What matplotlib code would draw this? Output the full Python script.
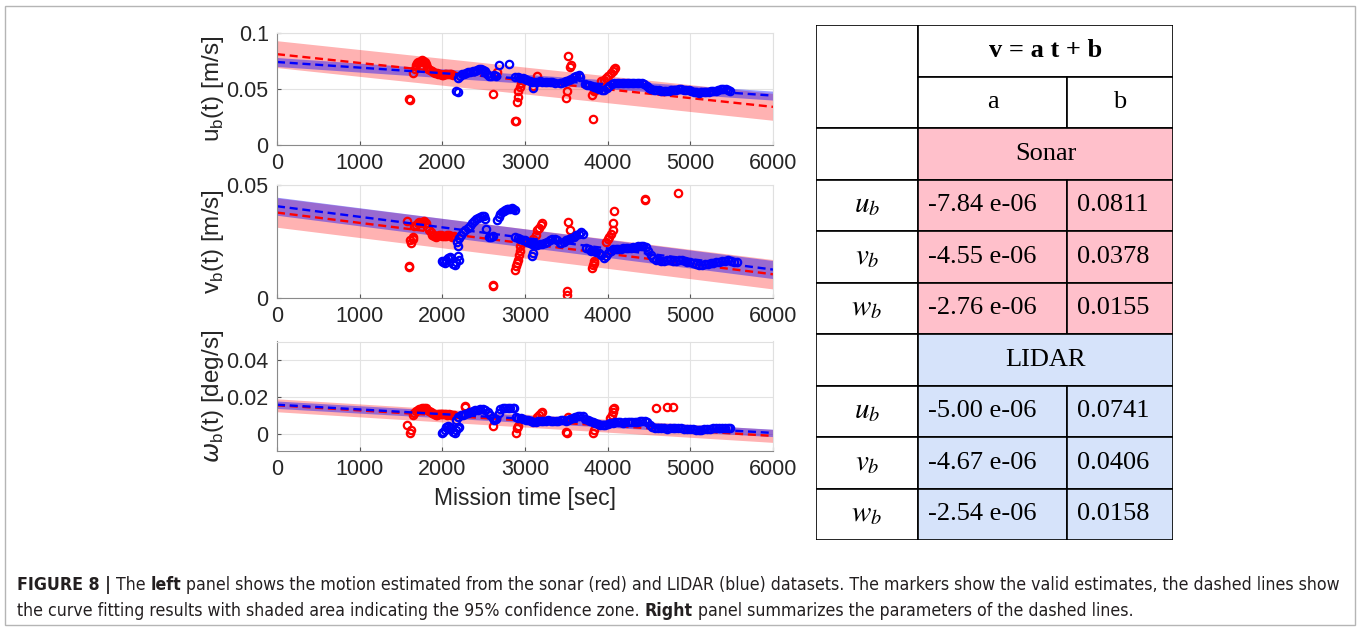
import matplotlib
matplotlib.use("Agg")
import matplotlib.pyplot as plt
from matplotlib import font_manager
from matplotlib.font_manager import FontProperties
from matplotlib.patches import Rectangle
import numpy as np

# =========================
# fit parameters (table)
# =========================
comp_labels = [r"$u_b$", r"$v_b$", r"$w_b$"]
sonar_a = [-7.84e-06, -4.55e-06, -2.76e-06]
sonar_b = [0.0811, 0.0378, 0.0155]
lidar_a = [-5.00e-06, -4.67e-06, -2.54e-06]
lidar_b = [0.0741, 0.0406, 0.0158]
# half width of the 95% zone
sonar_ci = [0.012, 0.0065, 0.0035]
lidar_ci = [0.004, 0.004, 0.002]

# =========================
# u_b
# =========================
sonar_u_t = [1595, 1605, 2610, 2658, 2885, 2895, 2900, 2910, 2920, 2935, 2950,
             3100, 3142, 3500, 3505, 3525, 3545, 3560, 3815, 3820, 3830, 3850, 3870,
             1650, 1665, 1680, 1695, 1710, 1725, 1740, 1755, 1770, 1785, 1800, 1815,
             1830, 1850, 1870, 1890, 1910, 1930, 1950, 1970, 1990, 2010, 2030, 2050,
             2070, 2090, 2110, 2130,
             3920, 3950, 3980, 4010, 4040, 4060, 4075, 4085]
sonar_u = [0.041, 0.0405, 0.0455, 0.0655, 0.0214, 0.021, 0.038, 0.043, 0.048, 0.052, 0.055,
           0.053, 0.062, 0.0417, 0.0482, 0.0797, 0.0699, 0.071, 0.045, 0.0229, 0.048, 0.049, 0.05,
           0.064, 0.068, 0.071, 0.073, 0.074, 0.0745, 0.075, 0.0755, 0.075, 0.074, 0.072, 0.070,
           0.068, 0.067, 0.066, 0.065, 0.0645, 0.064, 0.063, 0.063, 0.0625, 0.0625, 0.063, 0.063,
           0.0635, 0.063, 0.063, 0.0625,
           0.057, 0.058, 0.060, 0.062, 0.064, 0.066, 0.068, 0.0685]

lidar_u_t = [2170, 2185, 2690, 2811,
             2190, 2215, 2240, 2265, 2290, 2315, 2340, 2365, 2390, 2415, 2440, 2465, 2490,
             2515, 2540, 2565, 2590, 2620, 2645,
             2880, 2910, 2940, 2970, 3000, 3030, 3060, 3090, 3120, 3150, 3180, 3210, 3240,
             3270, 3300, 3330, 3360, 3100, 3420,
             3440, 3470, 3500, 3530, 3560, 3590, 3620, 3650, 3670,
             3720, 3750, 3780, 3810, 3840, 3870, 3900, 3930, 3960, 3990, 4020, 4050, 4080,
             4110, 4140, 4170, 4200, 4230, 4260, 4290, 4320, 4350, 4380, 4410, 4440, 4470, 4500,
             4530, 4560, 4590, 4620, 4650, 4680, 4710, 4740, 4770, 4800, 4830, 4860, 4890,
             4920, 4950, 4980, 5010, 5040, 5070, 5100, 5130, 5160, 5190, 5220, 5250, 5280,
             5310, 5340, 5370, 5400, 5430, 5460, 5480]
lidar_u = [0.048, 0.0475, 0.0714, 0.072,
           0.060, 0.0615, 0.063, 0.0635, 0.064, 0.065, 0.0655, 0.066, 0.0665, 0.067, 0.0675, 0.068, 0.067,
           0.066, 0.063, 0.0615, 0.062, 0.0625, 0.062,
           0.061, 0.0605, 0.060, 0.0595, 0.059, 0.058, 0.057, 0.0565, 0.056, 0.0565, 0.057, 0.0565, 0.056,
           0.0565, 0.0565, 0.056, 0.0555, 0.0506, 0.055,
           0.055, 0.056, 0.057, 0.058, 0.059, 0.0605, 0.062, 0.0625, 0.061,
           0.0545, 0.054, 0.0535, 0.053, 0.052, 0.051, 0.050, 0.049, 0.0495, 0.051, 0.053, 0.0545, 0.055,
           0.055, 0.0555, 0.0555, 0.0555, 0.0555, 0.055, 0.055, 0.055, 0.0555, 0.0555, 0.055, 0.0545, 0.053, 0.051,
           0.050, 0.0495, 0.049, 0.049, 0.0485, 0.048, 0.048, 0.0485, 0.049, 0.049, 0.0495, 0.050, 0.050,
           0.0495, 0.049, 0.049, 0.048, 0.0475, 0.047, 0.0465, 0.047, 0.047, 0.047, 0.0475, 0.048, 0.048,
           0.0485, 0.049, 0.050, 0.050, 0.050, 0.049, 0.0485]

# =========================
# v_b
# =========================
sonar_v_t = [1577, 1596, 1601, 1610, 1625, 1640, 1650,
             1660, 1680, 1700, 1720, 1740, 1760, 1780, 1800, 1820, 1840, 1860, 1880, 1900,
             1920, 1940, 1960, 1980, 2000, 2020, 2040, 2060, 2080, 2100, 2120, 2140,
             2612, 2617, 2880, 2895, 2905, 2915, 2925, 2935, 2945, 2955,
             3100, 3130, 3150, 3170, 3190, 3200, 3505, 3510, 3525, 3540,
             3808, 3820, 3830, 3840, 3980, 4000, 4020, 4040, 4060, 4070, 4075, 4453, 4455, 4848]
sonar_v = [0.034, 0.0142, 0.0136, 0.0255, 0.0245, 0.026, 0.027,
           0.032, 0.0325, 0.033, 0.0335, 0.033, 0.0335, 0.034, 0.033, 0.0315, 0.030, 0.029, 0.028, 0.0275,
           0.027, 0.0275, 0.028, 0.028, 0.0275, 0.0275, 0.0275, 0.028, 0.028, 0.0275, 0.027, 0.0275,
           0.0052, 0.0056, 0.0125, 0.014, 0.0155, 0.017, 0.019, 0.021, 0.023, 0.025,
           0.026, 0.028, 0.030, 0.031, 0.0325, 0.033, 0.003, 0.0015, 0.0335, 0.030,
           0.0133, 0.0145, 0.0155, 0.0165, 0.025, 0.026, 0.027, 0.0285, 0.030, 0.0332, 0.0383, 0.0435, 0.044, 0.0465]

lidar_v_t = [1995, 2010, 2030, 2050, 2070, 2090, 2110, 2130, 2150, 2170, 2190, 2200, 2194,
             2180, 2205, 2230, 2255, 2280, 2305, 2330, 2355, 2380, 2405, 2430, 2455, 2480, 2505, 2520,
             2530, 2560, 2590, 2610,
             2660, 2680, 2700, 2720, 2740, 2760, 2780, 2800, 2820, 2840, 2860, 2875,
             2880, 2910, 2940, 2970, 3000, 3030, 3060, 3090, 3120, 3150, 3180, 3210, 3240,
             3270, 3300, 3330, 3360, 3390, 3420, 3082, 3100,
             3440, 3470, 3500, 3530, 3560, 3590, 3620, 3650, 3680, 3700,
             3740, 3770, 3800, 3830, 3860, 3890, 3920, 3950, 3980, 4010, 4040, 4070, 4100, 4130,
             4160, 4190, 4220, 4250, 4280, 4310, 4340, 4370, 4400, 4430, 4460, 4490, 4520, 4550,
             4580, 4615, 4650, 4685, 4720, 4755, 4790, 4825, 4860, 4895, 4930, 4965, 5000, 5035,
             5070, 5105, 5140, 5175, 5210, 5245, 5280, 5315, 5350, 5385, 5420, 5455, 5490, 5525, 5560]
lidar_v = [0.0165, 0.016, 0.0155, 0.017, 0.0175, 0.018, 0.0175, 0.015, 0.0145, 0.016, 0.0185, 0.017, 0.0229,
           0.025, 0.0265, 0.028, 0.029, 0.030, 0.031, 0.032, 0.033, 0.034, 0.035, 0.0355, 0.036, 0.0365, 0.0365, 0.035,
           0.0305, 0.027, 0.027, 0.0275,
           0.0345, 0.036, 0.037, 0.038, 0.0385, 0.039, 0.0395, 0.0395, 0.0395, 0.040, 0.0395, 0.039,
           0.027, 0.0265, 0.026, 0.0255, 0.0255, 0.025, 0.0245, 0.024, 0.024, 0.0235, 0.024, 0.024, 0.0245,
           0.025, 0.0255, 0.026, 0.026, 0.0255, 0.0245, 0.0185, 0.020,
           0.0245, 0.025, 0.0255, 0.026, 0.0265, 0.027, 0.028, 0.0285, 0.029, 0.0285,
           0.022, 0.0215, 0.021, 0.021, 0.0205, 0.020, 0.019, 0.0178, 0.0185, 0.020, 0.021, 0.0215, 0.0215, 0.0215,
           0.0215, 0.022, 0.022, 0.022, 0.022, 0.0225, 0.0225, 0.023, 0.023, 0.023, 0.0225, 0.021, 0.019, 0.0175,
           0.017, 0.017, 0.0165, 0.0165, 0.017, 0.017, 0.0165, 0.0165, 0.017, 0.017, 0.0165, 0.016, 0.016, 0.0155,
           0.015, 0.0145, 0.0145, 0.015, 0.015, 0.0155, 0.0155, 0.016, 0.016, 0.0165, 0.0165, 0.017, 0.0165, 0.016, 0.016]

# =========================
# omega_b
# =========================
sonar_w_t = [1577, 1610, 1620,
             1640, 1660, 1680, 1700, 1720, 1740, 1760, 1780, 1800, 1820, 1840, 1860, 1880,
             1900, 1920, 1940, 1960, 1980, 2000, 2020, 2040, 2060, 2080, 2100, 2120, 2140,
             2270, 2280, 2617, 2895, 2905, 2910, 3150, 3170, 3190, 3200, 3500, 3510, 3525,
             3828, 3835, 4030, 4050, 4060, 4070, 4080, 4582, 4715, 4795]
sonar_w = [0.0047, 0.0005, 0.002,
           0.010, 0.0115, 0.0125, 0.013, 0.0133, 0.0135, 0.014, 0.014, 0.0138, 0.013, 0.0125, 0.012, 0.0115,
           0.011, 0.0105, 0.0105, 0.011, 0.011, 0.0108, 0.011, 0.011, 0.0105, 0.011, 0.0105, 0.0102, 0.010,
           0.015, 0.0145, 0.0042, 0.0005, 0.0033, 0.0045, 0.009, 0.0105, 0.0115, 0.012, 0.0008, 0.0005, 0.009,
           0.0005, 0.002, 0.0087, 0.010, 0.012, 0.0135, 0.0142, 0.0138, 0.0145, 0.0145]

lidar_w_t = [1995, 2010, 2030, 2050, 2070, 2090, 2110, 2130, 2150, 2170, 2190, 2200,
             2160, 2190, 2220, 2250, 2280, 2310, 2340, 2370, 2400, 2430, 2460, 2490, 2520, 2550, 2580, 2610,
             2630, 2650, 2680,
             2700, 2730, 2760, 2790, 2820, 2850, 2870,
             2890, 2920, 2950, 2980, 3010, 3040, 3070, 3100, 3130, 3160, 3190, 3220, 3250, 3280,
             3310, 3340, 3370, 3400, 3430, 3460, 3490, 3520, 3550, 3580, 3610, 3640, 3670, 3700,
             3730, 3760, 3790, 3820, 3850, 3880, 3910, 3940, 3970, 4000, 4030, 4060, 4090, 4120,
             4150, 4180, 4210, 4240, 4270, 4300, 4330, 4360, 4390, 4420, 4450, 4480, 4510,
             4540, 4575, 4610, 4645, 4680, 4715, 4750, 4785, 4820, 4855, 4890, 4925, 4960, 4995,
             5030, 5065, 5100, 5135, 5170, 5205, 5240, 5275, 5310, 5345, 5380, 5415, 5450, 5480]
lidar_w = [0.0005, 0.001, 0.002, 0.0035, 0.0045, 0.004, 0.003, 0.001, 0.0005, 0.002, 0.003, 0.004,
           0.0078, 0.009, 0.010, 0.0105, 0.011, 0.0115, 0.012, 0.0125, 0.013, 0.013, 0.0133, 0.0133, 0.013, 0.012, 0.010, 0.0085,
           0.0075, 0.008, 0.0115,
           0.0135, 0.014, 0.014, 0.014, 0.014, 0.014, 0.0138,
           0.009, 0.0088, 0.0085, 0.008, 0.0078, 0.0075, 0.007, 0.0065, 0.0065, 0.0068, 0.007, 0.007, 0.0072, 0.0075,
           0.0072, 0.007, 0.0068, 0.0072, 0.0078, 0.0075, 0.0072, 0.0075, 0.008, 0.0085, 0.009, 0.0095, 0.0098, 0.0095,
           0.008, 0.0075, 0.007, 0.0065, 0.006, 0.0055, 0.005, 0.0048, 0.005, 0.0055, 0.006, 0.006, 0.0062, 0.0063,
           0.0062, 0.006, 0.0062, 0.0063, 0.0065, 0.0065, 0.0065, 0.0065, 0.0068, 0.007, 0.007, 0.0065, 0.005,
           0.0035, 0.003, 0.003, 0.003, 0.003, 0.0028, 0.003, 0.003, 0.0032, 0.003, 0.003, 0.0028, 0.0028, 0.0028,
           0.0025, 0.0022, 0.002, 0.002, 0.0025, 0.0028, 0.0028, 0.003, 0.003, 0.003, 0.003, 0.0032, 0.003, 0.003]

x_ticks = [0, 1000, 2000, 3000, 4000, 5000, 6000]
y_ticks = [[0, 0.05, 0.1], [0, 0.05], [0, 0.02, 0.04]]
y_lims = [(0, 0.1), (0, 0.05), (-0.009, 0.05)]
y_labels = [r"u$_\mathregular{b}$(t) [m/s]", r"v$_\mathregular{b}$(t) [m/s]",
            r"$\omega_\mathregular{b}$(t) [deg/s]"]

W, H = 1360, 631
plt.rcParams["font.family"] = ["Liberation Sans", "DejaVu Sans"]
fig = plt.figure(figsize=(W / 100, H / 100), dpi=100)

# axes boxes in pixels: (left, top, right, bottom)
boxes = [(277, 33, 773, 145), (277, 185, 773, 298), (277, 341.5, 773, 450.6)]
sonar_sets = [(sonar_u_t, sonar_u), (sonar_v_t, sonar_v), (sonar_w_t, sonar_w)]
lidar_sets = [(lidar_u_t, lidar_u), (lidar_v_t, lidar_v), (lidar_w_t, lidar_w)]

dash = (0, (3.4, 2.0))
mk = dict(ls="none", marker="o", mfc="none", ms=5.3, mew=1.6)
tt = np.array([0, 6000])
for k in range(3):
    l, t, r, b = boxes[k]
    ax = fig.add_axes([l / W, (H - b) / H, (r - l) / W, (b - t) / H])

    ys = sonar_a[k] * tt + sonar_b[k]
    ax.fill_between(tt, ys - sonar_ci[k], ys + sonar_ci[k], color="red", alpha=0.3, lw=0)
    ax.plot(tt, ys, color="red", ls=dash, lw=1.7)
    ax.plot(sonar_sets[k][0], sonar_sets[k][1], mec="red", **mk)

    yl = lidar_a[k] * tt + lidar_b[k]
    ax.fill_between(tt, yl - lidar_ci[k], yl + lidar_ci[k], color="blue", alpha=0.4, lw=0)
    ax.plot(tt, yl, color="blue", ls=dash, lw=1.7)
    ax.plot(lidar_sets[k][0], lidar_sets[k][1], mec="blue", **mk)

    ax.set_xlim(0, 6000)
    ax.set_ylim(*y_lims[k])
    ax.set_xticks(x_ticks)
    ax.set_yticks(y_ticks[k])
    ax.set_yticklabels(["%g" % v for v in y_ticks[k]])
    ax.grid(True, color="#e3e3e3", lw=0.8)
    ax.set_axisbelow(True)
    ax.tick_params(direction="in", length=3, labelsize=15.5, colors="#555555",
                   labelcolor="#262626", pad=6)
    for s in ["left", "bottom"]:
        ax.spines[s].set_color("#8a8a8a")
    for s in ["top", "right"]:
        ax.spines[s].set_color("#e0e0e0")
    ax.set_ylabel(y_labels[k], fontsize=17.5, color="#262626", va="center")
    ax.yaxis.set_label_coords(-0.129, 0.5)
    if k == 2:
        ax.set_xlabel("Mission time [sec]", fontsize=16.5, color="#262626", va="center")
        ax.xaxis.set_label_coords(0.5, -0.435)

# =========================
# table on the right
# =========================
tl, ttop, tr, tb = 816, 25, 1173, 540
axt = fig.add_axes([tl / W, (H - tb) / H, (tr - tl) / W, (tb - ttop) / H])
axt.set_xlim(0, tr - tl)
axt.set_ylim(tb - ttop, 0)
axt.axis("off")
cx = [0, 102, 251, tr - tl]
rh = (tb - ttop) / 10
pink = "#ffc0cb"
lblue = "#d6e3fa"
serif = ["Liberation Serif", "DejaVu Serif"]
fs = 19

def cell(r0, r1, c0, c1, color):
    axt.add_patch(Rectangle((cx[c0], r0 * rh), cx[c1] - cx[c0], (r1 - r0) * rh,
                            facecolor=color, edgecolor="black", lw=1.2))

def txt(r, c0, c1, s, ha="center", weight="normal", size=fs):
    x = (cx[c0] + cx[c1]) / 2 if ha == "center" else cx[c0] + 10
    axt.text(x, (r + 0.5) * rh, s, ha=ha, va="center", fontsize=size, family=serif,
             weight=weight, math_fontfamily="stix")

cell(0, 2, 0, 1, "white")
cell(0, 1, 1, 3, "white")
txt(0, 1, 3, "v = a t + b", weight="bold")
cell(1, 2, 1, 2, "white")
cell(1, 2, 2, 3, "white")
txt(1, 1, 2, "a")
txt(1, 2, 3, "b")
for base, name, aa, bb, col in [(2, "Sonar", sonar_a, sonar_b, pink),
                                (6, "LIDAR", lidar_a, lidar_b, lblue)]:
    cell(base, base + 1, 0, 1, "white")
    cell(base, base + 1, 1, 3, col)
    txt(base, 1, 3, name)
    for i in range(3):
        r = base + 1 + i
        cell(r, r + 1, 0, 1, "white")
        cell(r, r + 1, 1, 2, col)
        cell(r, r + 1, 2, 3, col)
        txt(r, 0, 1, comp_labels[i], size=21)
        txt(r, 1, 2, "%.2f e-06" % (aa[i] * 1e6), ha="left")
        txt(r, 2, 3, "%.4f" % bb[i], ha="left")

# =========================
# frame and caption
# =========================
fig.add_artist(Rectangle((5 / W, 6 / H), 1350 / W, 619 / H, transform=fig.transFigure,
                         fill=False, ec="#b5b5b5", lw=1))

cap_family = ["Liberation Sans", "DejaVu Sans"]
for cand, stretch in [("Liberation Sans Narrow", "normal"), ("DejaVu Sans", "condensed")]:
    try:
        f = font_manager.findfont(FontProperties(family=cand, stretch=stretch),
                                  fallback_to_default=False)
        if cand != "DejaVu Sans" or "Condensed" in f:
            cap_family = [cand, "DejaVu Sans"]
            cap_stretch = stretch
            break
    except Exception:
        pass
else:
    cap_stretch = "normal"

renderer = fig.canvas.get_renderer()

def text_w(s, size, weight="normal"):
    t = fig.text(0, 0, s, fontsize=size, family=cap_family, weight=weight, stretch=cap_stretch)
    w = t.get_window_extent(renderer).width
    t.remove()
    return w

line1 = [("FIGURE 8 |", "bold"), ("The", "normal"), ("left", "bold"),
         ("panel shows the motion estimated from the sonar (red) and LIDAR (blue) datasets. "
          "The markers show the valid estimates, the dashed lines show", "normal")]
line2 = [("the curve fitting results with shaded area indicating the 95% confidence zone.", "normal"),
         ("Right", "bold"), ("panel summarizes the parameters of the dashed lines.", "normal")]

# size the caption so the first line spans the same width as in the figure
w10 = sum(text_w(s, 10, w) for s, w in line1) + 3 * (text_w("a a", 10) - text_w("aa", 10))
cap_fs = 10 * 1326 / w10
space_w = text_w("a a", cap_fs) - text_w("aa", cap_fs)

def caption_line(ypix, pieces):
    x = 17
    for s, w in pieces:
        t = fig.text(x / W, (H - ypix) / H, s, fontsize=cap_fs, family=cap_family,
                     weight=w, stretch=cap_stretch, va="center", color="#231f20")
        x += t.get_window_extent(renderer).width + space_w

caption_line(585, line1)
caption_line(611, line2)

fig.savefig("out.png", dpi=100)
